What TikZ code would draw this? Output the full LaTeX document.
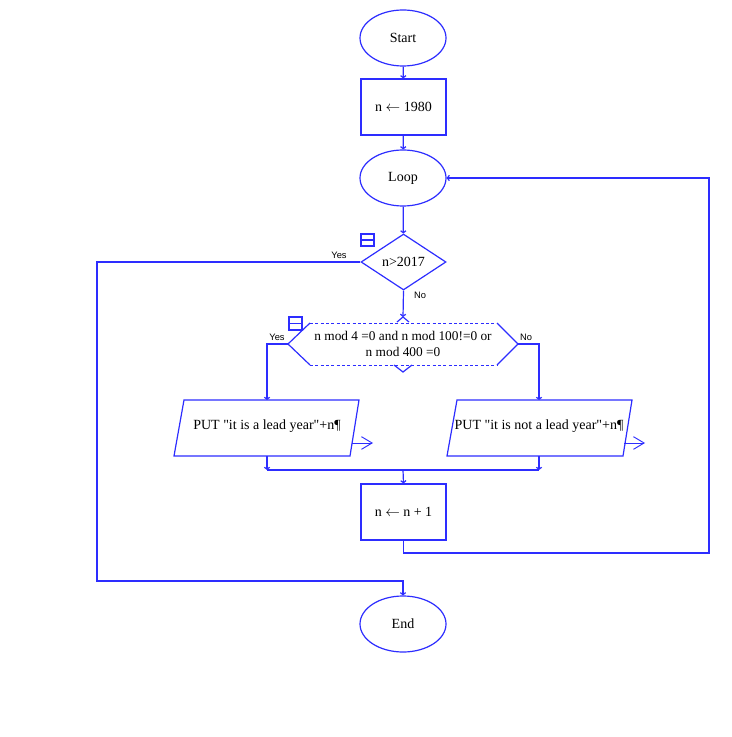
\documentclass[tikz,border=0pt]{standalone}
\usepackage{fontspec}
\setmainfont{Liberation Serif}
\newfontfamily\serifplain{Liberation Serif}
\newfontfamily\lblfont{Liberation Sans}
\usetikzlibrary{shapes.geometric,arrows.meta,calc}
\definecolor{fc}{RGB}{45,45,255}
\begin{document}
\begin{tikzpicture}[x=0.75pt,y=-0.75pt,
 shp/.style={draw=fc, line width=0.9pt},
 txt/.style={font=\serifplain\fontsize{10.5}{12}\selectfont, text=black},
 term/.style={ellipse, shp, txt, minimum width=64.5pt, minimum height=42pt, inner sep=0pt},
 proc/.style={rectangle, shp, txt, minimum width=63.75pt, minimum height=42pt, inner sep=0pt},
 dec/.style={diamond, shp, txt, minimum width=63.75pt, minimum height=42pt, inner sep=0pt},
 conn/.style={draw=fc, line width=0.9pt, -{Straight Barb[length=1.5pt,width=4pt]}},
 wire/.style={draw=fc, line width=0.9pt},
 outarrow/.style={draw=fc, line width=0.7pt, -{Straight Barb[length=8pt,width=9.5pt,line width=0.7pt]}},
 lbl/.style={font=\lblfont\fontsize{7}{8}\selectfont, text=black, inner sep=0pt},
 icon/.style={draw=fc, line width=0.9pt},
]
\useasboundingbox (0,0) rectangle (731,737);

% main nodes
\node[term] (start) at (403,38) {Start};
\node[proc] (init) at (403.5,107) {n $\leftarrow$ 1980};
\node[term] (loop) at (403,178) {Loop};
\node[dec] (d1) at (403.5,262) {n>2017};
\node[txt, font=\serifplain\fontsize{10}{12}\selectfont, align=center, inner sep=0pt] (hex) at (403,344) {n mod 4 =0 and n mod 100!=0 or\\n mod 400 =0};
\node[txt, inner sep=0pt] (p1) at (267,426) {PUT "it is a lead year"+n¶};
\node[txt, inner sep=0pt] (p2) at (539,426) {PUT "it is not a lead year"+n¶};
\node[proc] (inc) at (403.5,512) {n $\leftarrow$ n + 1};
\node[term] (end) at (403,624) {End};

% hexagon decision
\coordinate (hT) at (403,317);
\coordinate (hL) at (288,344);
\coordinate (hR) at (518,344);
\draw[shp, dash pattern=on 2.2pt off 1.8pt, line width=0.7pt] (310,323) -- (497,323) (310,365) -- (497,365);
\draw[shp] (310,323) -- (hL) -- (310,365);
\draw[shp] (497,323) -- (hR) -- (497,365);
\draw[shp] (397,322) -- (hT) -- (409,322);
\draw[shp] (394,365) -- (403,372) -- (412,365);

% parallelograms
\coordinate (p1T) at (267,400);
\coordinate (p1B) at (267,456);
\coordinate (p2T) at (539,400);
\coordinate (p2B) at (539,456);
\draw[shp] (184,400) -- (359,400) -- (350,456) -- (174,456) -- cycle;
\draw[shp] (457,400) -- (632,400) -- (623,456) -- (447,456) -- cycle;
\coordinate (o1a) at (352,443); \coordinate (o1b) at (373,443);
\coordinate (o2a) at (624,443); \coordinate (o2b) at (645,443);
\draw[outarrow] (o1a) -- (o1b);
\draw[outarrow] (o2a) -- (o2b);

% icons
\draw[icon] (361,234) rectangle (374,246) (361,240) -- (374,240);
\draw[icon] (289,317) rectangle (302,330) (289,323.5) -- (302,323.5);

% connectors
\draw[conn] (start) -- (init);
\draw[conn] (init) -- (loop);
\draw[conn] (loop) -- (d1);
\coordinate (cL) at (97,581);
\draw[conn] (d1.west) -| (cL) -| (end.north);
\draw[conn] (d1.south) -- (hT);
\draw[conn] (hL) -| (p1T);
\draw[conn] (hR) -| (p2T);
\coordinate (m1) at (267,470);
\coordinate (m2) at (539,470);
\coordinate (mc) at (403,470);
\draw[conn] (p1B) -- (m1);
\draw[conn] (p2B) -- (m2);
\draw[wire] (m1) -- (m2);
\draw[conn] (mc) -- (inc.north);
\coordinate (back) at (709,553);
\draw[conn] (inc.south) |- (back) |- (loop.east);

% labels
\node[lbl] at (339,255) {Yes};
\node[lbl] at (420,295) {No};
\node[lbl] at (277,337.5) {Yes};
\node[lbl] at (526,337.5) {No};
\end{tikzpicture}
\end{document}
